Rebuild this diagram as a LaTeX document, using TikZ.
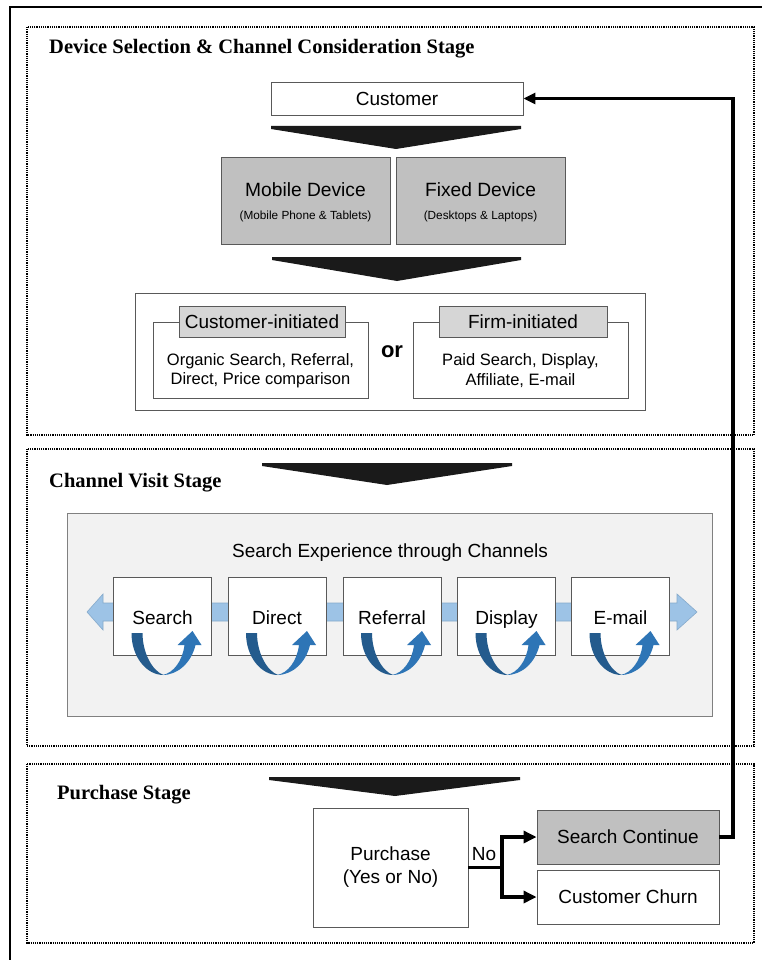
\documentclass[tikz,border=0pt]{standalone}
\usepackage{fontspec}
\setmainfont{Liberation Serif}
\newfontfamily\arialf{Liberation Sans}
\usetikzlibrary{arrows.meta}
\definecolor{graybox}{HTML}{C0C0C0}
\definecolor{labelgray}{HTML}{D6D6D6}
\definecolor{panelgray}{HTML}{F2F2F2}
\definecolor{chevblack}{HTML}{1A1A1A}
\definecolor{bandblue}{HTML}{9DC3E6}
\definecolor{bandedge}{HTML}{86AACB}
\definecolor{udark}{HTML}{245B8D}
\definecolor{ulight}{HTML}{2E75B6}
\newcommand\fA{\arialf\fontsize{19}{23}\selectfont}
\newcommand\fB{\arialf\fontsize{16.5}{19.5}\selectfont}
\newcommand\fS{\arialf\fontsize{11.8}{13}\selectfont}
\newcommand\fT{\fontsize{20.5}{24}\selectfont\bfseries}
\begin{document}
\begin{tikzpicture}[x=1pt,y=-1pt,
  sbox/.style={draw=black!65,line width=0.9pt,fill=white,inner sep=0pt,font=\fA,align=center},
  gbox/.style={sbox,fill=graybox},
  lbox/.style={sbox,fill=labelgray},
  stagebox/.style={draw=black,line width=1.5pt,dash pattern=on 1.2pt off 1pt},
  stagetitle/.style={anchor=base west,font=\fT,inner sep=0pt},
  txt/.style={inner sep=0pt,align=center},
  chev/.style={fill=chevblack},
  conn/.style={line width=3.5pt,-{Triangle[length=13pt,width=12pt]}},
  uturn/.pic={
    \fill[udark] (-31,-42) .. controls (-31,-18) and (-16,0) .. (1,0)
       .. controls (-10,-4) and (-20,-22) .. (-20,-42) -- cycle;
    \fill[ulight] (0,0) .. controls (16,0) and (29,-13) .. (33,-30) -- (39,-30) -- (30,-44)
       -- (15,-30) -- (22,-30) .. controls (20,-14) and (11,-2) .. (0,0) -- cycle;
  }]
\clip (0,0) rectangle (762,960);
\fill[white] (0,0) rectangle (762,960);
% outer frame
\draw[line width=2.5pt] (10,7) rectangle (768,966);
% stage boxes
\draw[stagebox] (27,27) rectangle (754,435);
\draw[stagebox] (27,449) rectangle (754,746);
\draw[stagebox] (27,764) rectangle (754,943);
\node[stagetitle] (t1) at (49,54) {Device Selection \& Channel Consideration Stage};
\node[stagetitle] (t2) at (49,487) {Channel Visit Stage};
\node[stagetitle] (t3) at (57,799) {Purchase Stage};

% ---------- stage 1
\node[sbox,minimum width=252pt,minimum height=33pt] (cust) at (397,98.5) {Customer};
\fill[chev] (271,126) -- (521,126) -- (521,129) -- (396,149) -- (271,129) -- cycle;
\node[gbox,minimum width=169pt,minimum height=87pt] (mob) at (305.5,200.5) {};
\node[gbox,minimum width=169pt,minimum height=87pt] (fix) at (480.5,200.5) {};
\node[txt,font=\arialf\fontsize{19.2}{22}\selectfont] (mobT) at (305.5,190) {Mobile Device};
\node[txt,font=\fS] (mobS) at (305.5,216) {(Mobile Phone \& Tablets)};
\node[txt,font=\arialf\fontsize{19.2}{22}\selectfont] (fixT) at (480.5,190) {Fixed Device};
\node[txt,font=\fS] (fixS) at (480.5,216) {(Desktops \& Laptops)};
\fill[chev] (272,257) -- (521,257) -- (521,260) -- (397,281) -- (272,260) -- cycle;
\draw[draw=black!65,line width=0.9pt,fill=white] (135,293) rectangle (645,410);
\draw[draw=black!65,line width=0.9pt] (153,322) rectangle (368,398);
\draw[draw=black!65,line width=0.9pt] (413,322) rectangle (628,398);
\node[lbox,minimum width=166pt,minimum height=31pt] (ci) at (262,321.5) {Customer-initiated};
\node[lbox,minimum width=168pt,minimum height=31pt] (fi) at (523,321.5) {Firm-initiated};
\node[txt,font=\fB] (ciT) at (260.5,370.5) {Organic Search, Referral,\\Direct, Price comparison};
\node[txt,font=\fB] (fiT) at (520.5,370.5) {Paid Search, Display,\\Affiliate, E-mail};
\node[txt,font=\arialf\bfseries\fontsize{22}{24}\selectfont] (or) at (392,352) {or};

% ---------- stage 2
\fill[chev] (262,463) -- (512,463) -- (512,466) -- (387,485) -- (262,466) -- cycle;
\draw[draw=black!50,line width=0.9pt,fill=panelgray] (67,513) rectangle (712,716);
\node[txt,font=\fA] (sexp) at (390,553) {Search Experience through Channels};
\filldraw[fill=bandblue,draw=bandedge,line width=0.6pt]
  (87,612) -- (103,594) -- (103,603) -- (677,603) -- (677,594) -- (697,612)
  -- (677,630) -- (677,621) -- (103,621) -- (103,630) -- cycle;
\foreach \cx/\nm/\lab in {162.5/ch1/Search, 277/ch2/Direct, 392/ch3/Referral, 506.5/ch4/Display, 620.5/ch5/E-mail}{
  \node[sbox,minimum width=98pt,minimum height=78pt] (\nm) at (\cx,616) {};
  \node[txt,font=\fA,anchor=base] (\nm t) at (\cx,624) {\lab};
  \pic at (\cx,675) {uturn};
}

% ---------- stage 3
\fill[chev] (269,777) -- (520,777) -- (520,780) -- (395,796) -- (269,780) -- cycle;
\node[sbox,minimum width=155pt,minimum height=119pt] (pur) at (390.5,867.5) {Purchase\\(Yes or No)};
\node[gbox,minimum width=182pt,minimum height=54pt] (sc) at (628,837) {Search Continue};
\node[sbox,minimum width=182pt,minimum height=54pt] (cc) at (628,897) {Customer Churn};
\node[txt,font=\fA] (no) at (484,854) {No};
\coordinate (jn) at (502,867.5);
\coordinate (ret) at (733,837);
\draw[conn] (pur.east) -- (jn) |- (sc.west);
\draw[conn] (jn) |- (cc.west);
\draw[conn,-{Triangle[length=12pt,width=11pt]}] (sc.east) -- (ret) |- (cust.east);
\end{tikzpicture}
\end{document}
